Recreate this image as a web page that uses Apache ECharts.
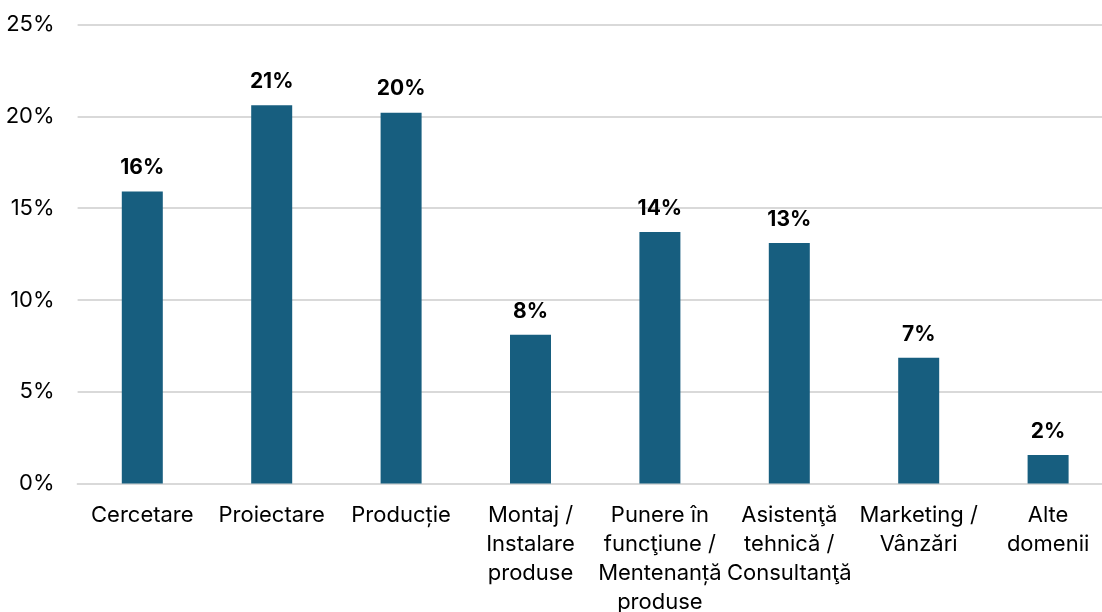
<!DOCTYPE html>
<html>
<head>
<meta charset="utf-8">
<script src="https://cdn.jsdelivr.net/npm/echarts@6/dist/echarts.min.js"></script>
<style>
html,body{margin:0;padding:0;background:#fff;overflow:hidden;}
#chart{width:1102px;height:612px;}
</style>
</head>
<body>
<div id="chart"></div>
<script>
const categories = [
  'Cercetare',
  'Proiectare',
  'Producție',
  'Montaj /\nInstalare\nproduse',
  'Punere în\nfuncţiune /\nMentenanță\nproduse',
  'Asistenţă\ntehnică /\nConsultanţă',
  'Marketing /\nVânzări',
  'Alte\ndomenii'
];
const values = [15.9, 20.6, 20.2, 8.1, 13.7, 13.1, 6.85, 1.55];
const yTicks = { min: 0, max: 25, interval: 5 };

const chart = echarts.init(document.getElementById('chart'));
chart.setOption({
  animation: false,
  textStyle: { fontFamily: 'Inter' },
  grid: { left: 77.6, width: 1035.2, top: 24.5, height: 459, outerBoundsMode: 'none', containLabel: false },
  xAxis: {
    type: 'category',
    data: categories,
    axisLine: { lineStyle: { color: '#d9d9d9', width: 2 } },
    axisTick: { show: false },
    axisLabel: {
      interval: 0,
      color: '#000',
      fontSize: 22,
      lineHeight: 29,
      margin: 17,
      fontFamily: 'Inter'
    }
  },
  yAxis: {
    type: 'value',
    min: yTicks.min,
    max: yTicks.max,
    interval: yTicks.interval,
    axisLine: { show: false },
    axisTick: { show: false },
    splitLine: { lineStyle: { color: '#d9d9d9', width: 2 } },
    axisLabel: {
      color: '#000',
      fontSize: 22,
      margin: 23,
      fontFamily: 'Inter',
      formatter: v => v + '%'
    }
  },
  series: [{
    type: 'bar',
    data: values,
    barWidth: 41,
    itemStyle: { color: '#175e7f' },
    label: {
      show: true,
      position: 'top',
      distance: 13,
      color: '#000',
      fontSize: 21,
      fontWeight: 'bold',
      fontFamily: 'Inter',
      formatter: p => Math.round(p.value) + '%'
    }
  }]
});
</script>
</body>
</html>
